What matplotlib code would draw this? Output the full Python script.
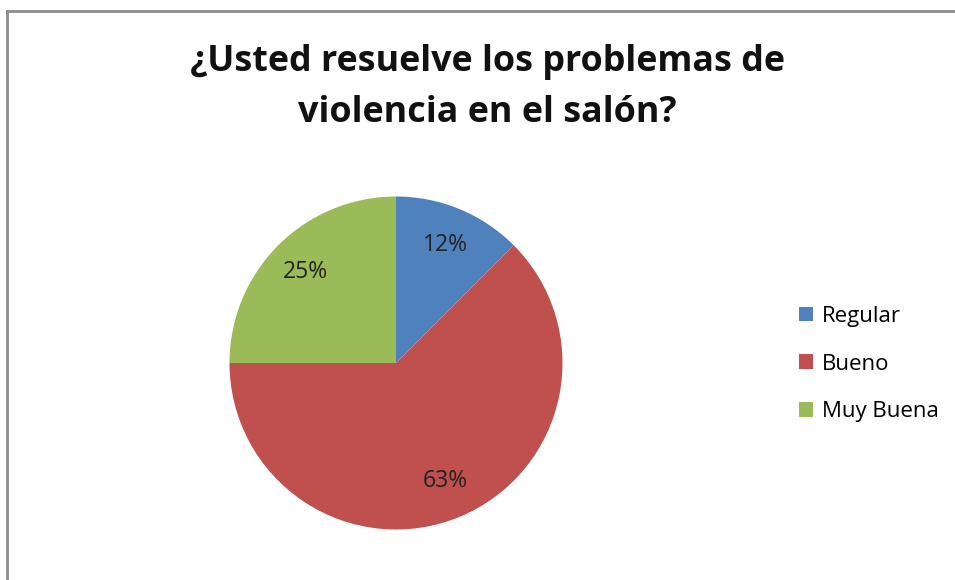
import numpy as np
import matplotlib.pyplot as plt
from matplotlib.lines import Line2D
from matplotlib.patches import Patch

plt.rcParams['font.family'] = ['Open Sans', 'DejaVu Sans']

# data
categories = ['Regular', 'Bueno', 'Muy Buena']
values = [12.5, 62.5, 25]
pct_labels = ['12%', '63%', '25%']
colors = ['#4F81BD', '#C0504D', '#9BBB59']
title_lines = ['¿Usted resuelve los problemas de', 'violencia en el salón?']

W, H = 955, 580
fig = plt.figure(figsize=(W / 100, H / 100), dpi=100)

# frame of the chart area (only top and left edges are visible)
fig.add_artist(Line2D([7 / W, 1], [1 - 11 / H, 1 - 11 / H], color='#8c8c8c', lw=2))
fig.add_artist(Line2D([7 / W, 7 / W], [0, 1 - 11 / H], color='#8c8c8c', lw=2))

# pie axes: centre (396, 363), radius ~166 px
cx, cy, r = 396, 363, 166.5
ax = fig.add_axes([(cx - r) / W, (H - cy - r) / H, 2 * r / W, 2 * r / H])
wedges, texts = ax.pie(values, colors=colors, startangle=90, counterclock=False,
                       radius=1)
for w, lab in zip(wedges, pct_labels):
    ang = np.deg2rad((w.theta1 + w.theta2) / 2)
    ax.text(0.77 * np.cos(ang), 0.77 * np.sin(ang), lab, ha='center', va='center',
            fontsize=16.5, color='#222222')
ax.set_xlim(-1, 1)
ax.set_ylim(-1, 1)
ax.set_aspect('equal')

for line, base in zip(title_lines, [71, 122]):
    fig.text(487 / W, 1 - base / H, line, ha='center', va='baseline',
             fontsize=25.8, fontweight='bold', color='#111111')

handles = [Patch(facecolor=c, edgecolor='none') for c in colors]
fig.legend(handles, categories, loc='center left',
           bbox_to_anchor=(779 / W, 1 - 364 / H), frameon=False,
           fontsize=16, handlelength=0.65, handleheight=0.65,
           handletextpad=0.4, labelspacing=1.2)

fig.savefig('out.png', dpi=100)
